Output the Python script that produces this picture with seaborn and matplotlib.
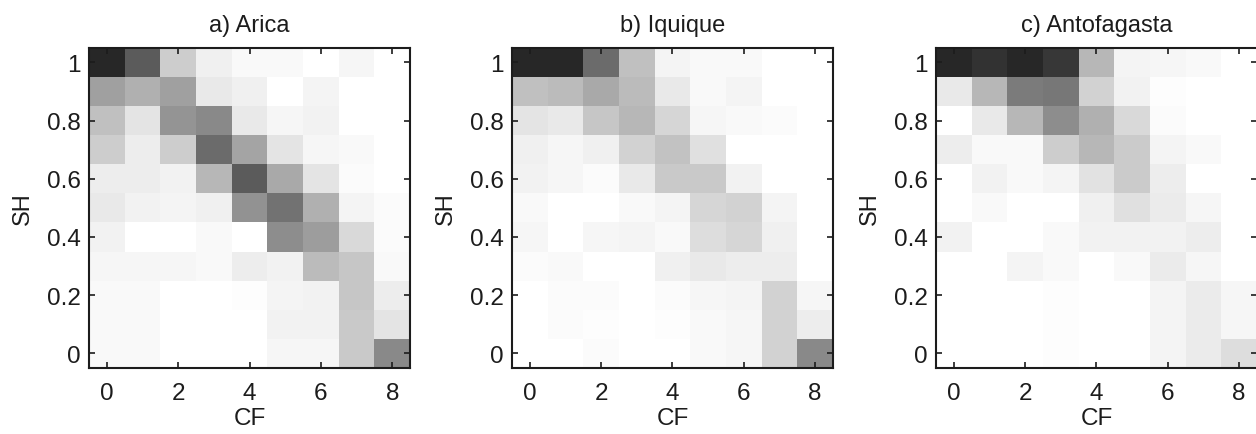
import numpy as np
import matplotlib
matplotlib.use("Agg")
import matplotlib.pyplot as plt
from matplotlib.colors import LinearSegmentedColormap
import seaborn as sns

# relative frequencies; rows from SH=1 (top) down to SH=0
cf_labels = [0, 1, 2, 3, 4, 5, 6, 7, 8]
sh_labels = [1.0, 0.9, 0.8, 0.7, 0.6, 0.5, 0.4, 0.3, 0.2, 0.1, 0.0]

arica = [
    [0.95, 0.72, 0.22, 0.07, 0.03, 0.03, 0.00, 0.04, 0.00],
    [0.42, 0.35, 0.42, 0.10, 0.07, 0.00, 0.05, 0.00, 0.00],
    [0.28, 0.12, 0.47, 0.52, 0.10, 0.04, 0.06, 0.00, 0.00],
    [0.22, 0.08, 0.22, 0.65, 0.40, 0.12, 0.04, 0.03, 0.00],
    [0.08, 0.08, 0.06, 0.32, 0.72, 0.38, 0.12, 0.02, 0.00],
    [0.10, 0.06, 0.05, 0.07, 0.48, 0.62, 0.35, 0.05, 0.02],
    [0.06, 0.00, 0.00, 0.03, 0.00, 0.50, 0.43, 0.17, 0.02],
    [0.04, 0.04, 0.04, 0.03, 0.08, 0.06, 0.30, 0.25, 0.03],
    [0.03, 0.03, 0.00, 0.00, 0.01, 0.05, 0.06, 0.25, 0.08],
    [0.03, 0.03, 0.00, 0.00, 0.00, 0.06, 0.06, 0.24, 0.12],
    [0.03, 0.03, 0.00, 0.00, 0.00, 0.04, 0.04, 0.24, 0.52],
]
iquique = [
    [0.95, 0.95, 0.65, 0.28, 0.05, 0.03, 0.03, 0.00, 0.00],
    [0.28, 0.30, 0.38, 0.30, 0.10, 0.03, 0.05, 0.00, 0.00],
    [0.12, 0.10, 0.25, 0.32, 0.18, 0.04, 0.03, 0.02, 0.00],
    [0.07, 0.04, 0.07, 0.20, 0.27, 0.14, 0.00, 0.00, 0.00],
    [0.06, 0.04, 0.02, 0.10, 0.24, 0.24, 0.06, 0.00, 0.00],
    [0.03, 0.00, 0.00, 0.03, 0.05, 0.18, 0.20, 0.05, 0.00],
    [0.04, 0.00, 0.04, 0.05, 0.03, 0.15, 0.18, 0.07, 0.00],
    [0.02, 0.03, 0.00, 0.00, 0.07, 0.10, 0.08, 0.08, 0.00],
    [0.00, 0.02, 0.02, 0.00, 0.02, 0.04, 0.05, 0.20, 0.04],
    [0.00, 0.02, 0.01, 0.00, 0.01, 0.03, 0.04, 0.20, 0.08],
    [0.00, 0.00, 0.02, 0.00, 0.00, 0.03, 0.04, 0.20, 0.52],
]
antofagasta = [
    [0.95, 0.90, 0.95, 0.88, 0.32, 0.05, 0.04, 0.03, 0.00],
    [0.10, 0.32, 0.58, 0.60, 0.20, 0.06, 0.01, 0.00, 0.00],
    [0.00, 0.10, 0.32, 0.50, 0.35, 0.17, 0.02, 0.00, 0.00],
    [0.08, 0.03, 0.03, 0.22, 0.32, 0.23, 0.05, 0.03, 0.00],
    [0.00, 0.06, 0.03, 0.05, 0.13, 0.23, 0.08, 0.00, 0.00],
    [0.00, 0.03, 0.00, 0.00, 0.07, 0.14, 0.09, 0.04, 0.00],
    [0.06, 0.00, 0.00, 0.03, 0.06, 0.06, 0.06, 0.08, 0.00],
    [0.00, 0.00, 0.05, 0.03, 0.00, 0.03, 0.09, 0.04, 0.00],
    [0.00, 0.00, 0.00, 0.01, 0.00, 0.00, 0.05, 0.09, 0.04],
    [0.00, 0.00, 0.00, 0.01, 0.00, 0.00, 0.05, 0.09, 0.04],
    [0.00, 0.00, 0.00, 0.01, 0.00, 0.00, 0.05, 0.09, 0.15],
]
titles = ["a) Arica", "b) Iquique", "c) Antofagasta"]

plt.rcParams['font.family'] = ['Liberation Sans', 'DejaVu Sans']
cmap = LinearSegmentedColormap.from_list("wb", ["#ffffff", "#1c1c1c"])

fig = plt.figure(figsize=(12.56, 4.35), dpi=100)
lefts = [0.0709, 0.4076, 0.7452]
for left, data, title in zip(lefts, [arica, iquique, antofagasta], titles):
    ax = fig.add_axes([left, 0.152, 0.2556, 0.7356])
    sns.heatmap(np.array(data), cmap=cmap, vmin=0, vmax=1, cbar=False,
                xticklabels=False, yticklabels=False, ax=ax)
    ax.set_xticks([i + 0.5 for i in cf_labels[::2]])
    ax.set_xticklabels([str(c) for c in cf_labels[::2]])
    ax.set_yticks([i + 0.5 for i in range(0, len(sh_labels), 2)])
    ax.set_yticklabels([f"{v:g}" for v in sh_labels[::2]], rotation=0)
    ax.tick_params(direction='in', length=4, width=1.2, labelsize=17.5,
                   top=True, right=True, pad=6, colors='#1c1c1c')
    ax.tick_params(axis='x', pad=10)
    for sp in ax.spines.values():
        sp.set_visible(True)
        sp.set_linewidth(1.5)
        sp.set_color('#1c1c1c')
    ax.set_title(title, fontsize=17, pad=12, color='#1c1c1c')
    ax.set_xlabel("CF", fontsize=17.5, labelpad=2, color='#1c1c1c')
    ax.set_ylabel("SH", fontsize=17, labelpad=9, color='#1c1c1c')

fig.savefig("out.png", dpi=100)
